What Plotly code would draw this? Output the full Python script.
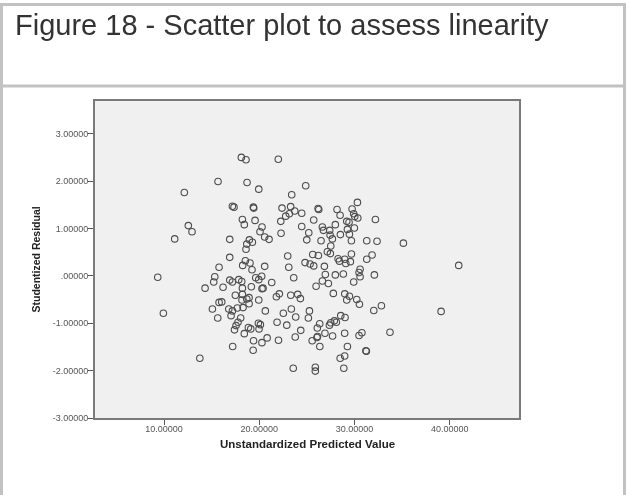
import plotly.graph_objects as go

# Unstandardized predicted values and studentized residuals
predicted = [
    18.12, 18.61, 22.0, 15.67, 18.72, 19.95, 12.13, 24.88, 23.41, 17.18, 17.35, 19.38, 19.42,
    22.39, 23.3, 23.73, 23.16, 22.78, 24.46, 18.23, 19.56, 22.26, 18.43, 12.55, 12.94, 11.12,
    20.29, 20.08, 24.46, 22.29, 25.2, 20.57, 21.03, 18.96, 19.28, 16.9, 18.69, 24.99, 18.61,
    16.9, 22.99, 18.54, 19.03, 18.26, 20.57, 24.81, 25.34, 25.72, 23.1, 15.78, 19.24, 9.34,
    23.62, 15.33, 15.22, 16.9, 17.18, 17.85, 18.16, 19.63, 19.95, 20.26, 21.31, 14.31, 16.2,
    18.23, 19.17, 20.29, 20.4, 25.97, 17.49, 18.23, 18.93, 22.11, 21.8, 23.31, 24.04, 24.32,
    19.95, 18.19, 18.69, 15.78, 16.06, 18.93, 15.08, 16.8, 17.18, 17.7, 18.3, 20.64, 22.53,
    23.37, 25.27, 25.16, 15.64, 17.04, 18.05, 23.83, 9.93, 26.35, 17.77, 17.56, 18.86, 19.11,
    19.91, 20.12, 19.98, 21.87, 22.89, 24.36, 17.4, 18.43, 26.1,
    30.31, 26.18, 26.25, 28.17, 29.75, 28.49, 29.92, 30.03, 30.35, 25.72, 29.19, 29.43, 32.2,
    27.99, 26.63, 26.74, 27.4, 29.26, 29.99, 27.44, 28.52, 29.47, 26.49, 27.68, 29.68, 31.29,
    32.37, 35.14, 27.51, 27.15, 27.47, 25.62, 26.21, 29.68, 31.85, 31.29, 28.28, 28.42, 28.98,
    29.09, 29.57, 40.95, 26.84, 30.59, 30.48, 30.59, 26.94, 27.99, 28.83, 32.09, 26.63, 27.26,
    29.92, 27.78, 28.98, 29.47, 29.19, 30.24, 30.52, 32.83, 32.03, 39.1, 28.56, 29.01, 27.37,
    27.51, 27.89, 28.1,
    19.4, 20.28, 20.83, 22.02, 17.21, 19.36, 13.76, 23.78, 25.56, 26.06, 26.12, 26.36, 26.9,
    27.7, 28.97, 29.26, 30.48, 30.78, 31.2, 31.25, 28.5, 28.97, 33.73, 23.57, 25.89, 25.89, 28.88,
]
residual = [
    2.50, 2.45, 2.46, 1.99, 1.97, 1.83, 1.76, 1.90, 1.71, 1.47, 1.45, 1.45, 1.43,
    1.43, 1.46, 1.37, 1.31, 1.26, 1.32, 1.19, 1.17, 1.15, 1.08, 1.06, 0.93, 0.78,
    1.03, 0.93, 1.04, 0.90, 0.91, 0.82, 0.77, 0.76, 0.71, 0.77, 0.67, 0.76, 0.56,
    0.39, 0.42, 0.32, 0.27, 0.22, 0.20, 0.28, 0.25, 0.21, 0.18, 0.18, 0.13, -0.03,
    -0.04, -0.02, -0.13, -0.09, -0.13, -0.08, -0.12, -0.04, -0.08, -0.01, -0.14, -0.26, -0.24,
    -0.26, -0.23, -0.27, -0.26, -0.22, -0.41, -0.39, -0.46, -0.38, -0.44, -0.41, -0.39, -0.48,
    -0.51, -0.51, -0.49, -0.56, -0.55, -0.59, -0.70, -0.70, -0.74, -0.68, -0.67, -0.74, -0.79,
    -0.70, -0.74, -0.89, -0.89, -0.84, -0.89, -0.87, -0.79, -1.01, -0.98, -1.05, -1.09, -1.12,
    -1.00, -1.03, -1.12, -0.98, -1.04, -1.15, -1.14, -1.22, -1.10,
    1.55, 1.42, 1.40, 1.40, 1.41, 1.28, 1.31, 1.25, 1.22, 1.18, 1.15, 1.13, 1.19,
    1.08, 1.03, 0.96, 0.96, 0.98, 1.01, 0.86, 0.87, 0.88, 0.74, 0.78, 0.74, 0.74,
    0.73, 0.69, 0.63, 0.51, 0.47, 0.45, 0.43, 0.46, 0.44, 0.35, 0.36, 0.31, 0.35,
    0.26, 0.30, 0.22, 0.20, 0.14, 0.07, -0.02, 0.03, 0.02, 0.04, 0.02, -0.11, -0.16,
    -0.13, -0.37, -0.38, -0.43, -0.51, -0.50, -0.60, -0.63, -0.73, -0.75, -0.84, -0.88, -1.04,
    -0.99, -0.95, -0.98,
    -1.37, -1.41, -1.31, -1.36, -1.49, -1.57, -1.74, -1.29, -1.37, -1.30, -1.28, -1.49, -1.21,
    -1.27, -1.21, -1.49, -1.26, -1.20, -1.58, -1.59, -1.74, -1.69, -1.19, -1.95, -1.93, -2.01, -1.95,
]

x_ticks = [10, 20, 30, 40]
x_tick_labels = ["10.00000", "20.00000", "30.00000", "40.00000"]
y_ticks = [-3, -2, -1, 0, 1, 2, 3]
y_tick_labels = ["-3.00000", "-2.00000", "-1.00000", ".00000", "1.00000", "2.00000", "3.00000"]

W, H = 630, 495
PL, PR, PT, PB = 95, 519, 101, 418  # plot box in pixels


def px_x(x):
    return (x - PL) / (PR - PL)


def px_y(y):
    return (PB - y) / (PB - PT)


fig = go.Figure()
fig.add_trace(go.Scatter(
    x=predicted, y=residual, mode="markers",
    marker=dict(symbol="circle-open", size=6.5, color="#3a3a3a", line=dict(width=1.1)),
    opacity=0.9, hoverinfo="x+y", showlegend=False,
))

axis_font = dict(family="Liberation Sans, Arial, sans-serif", size=9, color="#555555")
fig.update_xaxes(
    range=[2.75, 47.28], tickvals=x_ticks, ticktext=x_tick_labels,
    showgrid=False, zeroline=False, showline=True, linecolor="#7a7a7a", linewidth=2,
    mirror=True, ticks="outside", ticklen=5, tickcolor="#555555", tickwidth=1,
    tickfont=axis_font, ticklabelstandoff=-4,
)
fig.update_yaxes(
    range=[-3.0, 3.69], tickvals=y_ticks, ticktext=y_tick_labels,
    showgrid=False, zeroline=False, showline=True, linecolor="#7a7a7a", linewidth=2,
    mirror=True, ticks="outside", ticklen=5, tickcolor="#555555", tickwidth=1,
    tickfont=axis_font, ticklabelstandoff=-2,
)

frame = "#c2c2c2"
shapes = [
    # outer frame and the rule under the caption
    dict(type="line", xref="paper", yref="paper", x0=px_x(1.5), x1=px_x(1.5), y0=px_y(4), y1=px_y(W), line=dict(color=frame, width=3)),
    dict(type="line", xref="paper", yref="paper", x0=px_x(624.5), x1=px_x(624.5), y0=px_y(4), y1=px_y(W), line=dict(color=frame, width=3)),
    dict(type="line", xref="paper", yref="paper", x0=px_x(0), x1=px_x(626), y0=px_y(4.5), y1=px_y(4.5), line=dict(color=frame, width=3)),
    dict(type="line", xref="paper", yref="paper", x0=px_x(0), x1=px_x(626), y0=px_y(86), y1=px_y(86), line=dict(color=frame, width=3)),
]

annotations = [
    dict(text="Figure 18 - Scatter plot to assess linearity", xref="paper", yref="paper",
         x=px_x(13), y=px_y(25), xanchor="left", yanchor="middle", showarrow=False,
         font=dict(family="Liberation Sans, Arial, sans-serif", size=29, color="#333333")),
    dict(text="<b>Unstandardized Predicted Value</b>", xref="paper", yref="paper",
         x=0.5, y=px_y(444), xanchor="center", yanchor="middle", showarrow=False,
         font=dict(family="Liberation Sans, Arial, sans-serif", size=11.5, color="#222222")),
    dict(text="<b>Studentized Residual</b>", xref="paper", yref="paper", textangle=-90,
         x=px_x(35), y=0.5, xanchor="center", yanchor="middle", showarrow=False,
         font=dict(family="Liberation Sans, Arial, sans-serif", size=10.5, color="#222222")),
]

fig.update_layout(
    width=W, height=H,
    margin=dict(l=PL, r=W - PR, t=PT, b=H - PB, autoexpand=False),
    paper_bgcolor="white", plot_bgcolor="#f0f0f0",
    shapes=shapes, annotations=annotations,
)

fig.write_html("out.html")
